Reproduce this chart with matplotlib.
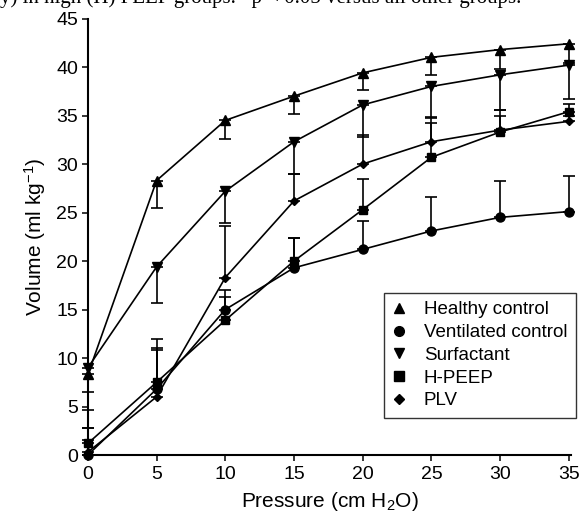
import matplotlib

matplotlib.use("Agg")

import matplotlib.pyplot as plt
from matplotlib.lines import Line2D


# pressure steps (cm H2O)
PRESSURE = [0, 5, 10, 15, 20, 25, 30, 35]

# lung volume per group (ml/kg) with one-sided error bars
HEALTHY = [8.3, 28.3, 34.5, 37.0, 39.4, 41.0, 41.8, 42.4]
HEALTHY_ERR_LO = [1.8, 2.8, 1.9, 1.8, 1.8, 1.8, 2.0, 2.0]

SURFACTANT = [9.0, 19.4, 27.2, 32.3, 36.1, 38.0, 39.2, 40.2]
SURFACTANT_ERR_LO = [4.4, 3.7, 3.3, 3.3, 3.3, 3.3, 3.6, 3.5]

VENTILATED = [0.0, 6.8, 15.0, 19.3, 21.2, 23.1, 24.5, 25.1]
VENTILATED_ERR_HI = [1.5, 4.2, 2.0, 3.1, 2.9, 3.5, 3.8, 3.7]

HPEEP = [1.2, 7.5, 13.9, 20.0, 25.3, 30.7, 33.3, 35.4]
HPEEP_ERR_HI = [1.6, 4.5, 2.4, 2.4, 3.2, 3.5, 2.3, 0.8]

PLV = [0.3, 6.0, 18.3, 26.2, 30.0, 32.3, 33.5, 34.4]
PLV_ERR_HI = [2.5, 4.8, 5.3, 2.8, 3.0, 2.6, 1.5, 0.6]

LABELS = ["Healthy control", "Ventilated control", "Surfactant", "H-PEEP", "PLV"]
MARKERS = ["^", "o", "v", "s", "D"]

plt.rcParams["font.family"] = ["Liberation Sans", "DejaVu Sans"]
plt.rcParams["mathtext.fontset"] = "custom"
plt.rcParams["mathtext.rm"] = "Liberation Sans"
plt.rcParams["mathtext.it"] = "Liberation Sans:italic"


def draw_series(ax, y, lo, hi, marker, ms):
    zeros = [0] * len(y)
    ax.errorbar(
        PRESSURE, y,
        yerr=[lo if lo else zeros, hi if hi else zeros],
        fmt="none", ecolor="black", elinewidth=1.2, capsize=4, capthick=1.2,
        clip_on=False, zorder=2,
    )
    ax.plot(PRESSURE, y, color="black", lw=1.2, marker=marker, ms=ms,
            mfc="black", mec="black", clip_on=False, zorder=3)


fig = plt.figure(figsize=(5.82, 5.15), dpi=100)
ax = fig.add_axes([0.151, 0.1165, 0.83, 0.8475])

draw_series(ax, HEALTHY, HEALTHY_ERR_LO, None, "^", 6.5)
draw_series(ax, SURFACTANT, SURFACTANT_ERR_LO, None, "v", 6.5)
draw_series(ax, VENTILATED, None, VENTILATED_ERR_HI, "o", 6.5)
draw_series(ax, HPEEP, None, HPEEP_ERR_HI, "s", 6)
draw_series(ax, PLV, None, PLV_ERR_HI, "D", 4.5)

ax.set_xlim(0, 35.15)
ax.set_ylim(0, 45)
ax.set_xticks(range(0, 36, 5))
ax.set_yticks(range(0, 46, 5))
ax.tick_params(direction="out", length=4, width=1.1, labelsize=14)
ax.tick_params(axis="x", pad=4)
ax.tick_params(axis="y", pad=3)
for side in ("top", "right"):
    ax.spines[side].set_visible(False)
for side in ("left", "bottom"):
    ax.spines[side].set_linewidth(1.5)

ax.set_xlabel("Pressure (cm H$_2$O)", fontsize=15, labelpad=5)
ax.set_ylabel("Volume (ml kg$^{-1}$)", fontsize=15, labelpad=6)

handles = [Line2D([], [], ls="none", marker=m, color="black", ms=7 if m != "D" else 5.5)
           for m in MARKERS]
leg = ax.legend(handles, LABELS, loc="lower right", bbox_to_anchor=(1.01, 0.085),
                fontsize=13.5, frameon=True, fancybox=False, edgecolor="black",
                handlelength=0.8, handletextpad=0.9, labelspacing=0.3,
                borderpad=0.45, borderaxespad=0)
leg.get_frame().set_linewidth(1.0)

# caption line from the page above, cut off by the figure edge
fig.text(0.0, 1 - 3.5 / 515, "y) in high (H) PEEP groups. *p < 0.05 versus all other groups.",
         family="Liberation Serif", fontsize=15, va="baseline", ha="left")

fig.savefig("out.png", dpi=100)
